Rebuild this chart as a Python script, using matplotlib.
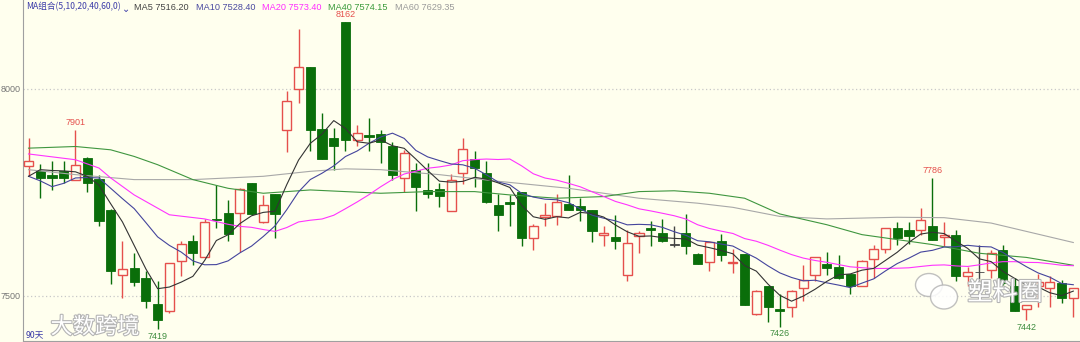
import matplotlib
matplotlib.use("Agg")
import matplotlib.pyplot as plt
import matplotlib.patheffects as pe
from matplotlib.patches import Ellipse
import pandas as pd

# daily OHLC, 90 sessions
opens = [7815, 7801, 7792, 7802, 7781, 7833, 7783, 7708, 7551, 7567,
         7543, 7480, 7463, 7585, 7632, 7595, 7686, 7700, 7700, 7772,
         7678, 7746, 7901, 7999, 8054, 7903, 7882, 8162, 7876, 7888,
         7891, 7863, 7785, 7805, 7756, 7758, 7706, 7797, 7831, 7798,
         7720, 7727, 7751, 7641, 7690, 7694, 7722, 7718, 7708, 7648,
         7642, 7551, 7645, 7665, 7652, 7623, 7652, 7601, 7582, 7632,
         7579, 7601, 7456, 7523, 7469, 7472, 7520, 7551, 7577, 7569,
         7554, 7523, 7590, 7614, 7665, 7660, 7660, 7670, 7642, 7648,
         7549, 7557, 7563, 7611, 7525, 7469, 7524, 7520, 7531, 7495]
highs = [7881, 7818, 7825, 7825, 7901, 7836, 7793, 7710, 7633, 7603,
         7559, 7537, 7580, 7632, 7646, 7686, 7768, 7732, 7761, 7772,
         7744, 7746, 7994, 8144, 8054, 7942, 7906, 8162, 7913, 7931,
         7901, 7873, 7853, 7821, 7821, 7772, 7794, 7881, 7851, 7825,
         7746, 7744, 7751, 7673, 7724, 7746, 7791, 7736, 7708, 7670,
         7696, 7660, 7657, 7680, 7686, 7668, 7698, 7603, 7630, 7649,
         7613, 7601, 7515, 7523, 7504, 7515, 7575, 7593, 7607, 7598,
         7554, 7587, 7624, 7665, 7678, 7678, 7712, 7786, 7678, 7660,
         7571, 7622, 7611, 7622, 7543, 7477, 7552, 7547, 7539, 7519]
lows = [7790, 7736, 7756, 7772, 7780, 7750, 7670, 7529, 7495, 7525,
        7471, 7419, 7458, 7547, 7575, 7593, 7664, 7632, 7607, 7696,
        7676, 7641, 7847, 7966, 7849, 7830, 7805, 7849, 7861, 7850,
        7821, 7781, 7752, 7706, 7736, 7714, 7704, 7770, 7764, 7724,
        7656, 7668, 7620, 7611, 7669, 7672, 7708, 7680, 7630, 7620,
        7613, 7537, 7603, 7620, 7630, 7619, 7601, 7576, 7561, 7585,
        7555, 7477, 7453, 7438, 7426, 7450, 7488, 7535, 7551, 7541,
        7504, 7523, 7543, 7603, 7624, 7625, 7648, 7636, 7620, 7535,
        7523, 7535, 7543, 7527, 7464, 7442, 7472, 7472, 7483, 7450]
closes = [7826, 7786, 7785, 7785, 7817, 7772, 7680, 7559, 7566, 7533,
          7487, 7442, 7579, 7625, 7603, 7678, 7684, 7649, 7759, 7698,
          7719, 7698, 7971, 8054, 7901, 7831, 7861, 7876, 7893, 7883,
          7871, 7791, 7845, 7762, 7746, 7742, 7779, 7855, 7810, 7726,
          7696, 7723, 7641, 7670, 7695, 7728, 7708, 7708, 7656, 7652,
          7632, 7627, 7653, 7660, 7632, 7623, 7620, 7578, 7630, 7598,
          7583, 7477, 7511, 7472, 7464, 7512, 7539, 7593, 7567, 7543,
          7523, 7585, 7614, 7664, 7641, 7644, 7684, 7636, 7648, 7549,
          7557, 7557, 7603, 7531, 7464, 7477, 7533, 7533, 7496, 7519]

# moving-average values before the window fills
ma5_head = [7789, 7805, 7803, 7802]
ma10_head = [7789, 7778, 7764, 7772, 7785, 7786, 7785, 7760, 7735]
ma20_head_idx = [0, 4, 6, 7, 9, 11, 12, 15, 17, 18]
ma20_head = [7843, 7829, 7809, 7785, 7744, 7712, 7696, 7686, 7673, 7668]
# long averages, sampled along the line
ma40_idx = [0, 4, 7, 9, 11, 14, 17, 20, 24, 27, 30, 34, 38, 41, 45, 49, 52,
            55, 58, 61, 64, 68, 71, 74, 77, 81, 85, 89]
ma40 = [7857, 7861, 7853, 7837, 7817, 7781, 7760, 7748, 7756, 7752, 7748,
        7752, 7752, 7744, 7736, 7740, 7752, 7754, 7748, 7736, 7698, 7672,
        7648, 7636, 7624, 7603, 7593, 7574]
ma60_idx = [0, 4, 9, 14, 20, 24, 27, 30, 35, 40, 46, 52, 57, 60, 64, 68,
            74, 78, 82, 89]
ma60 = [7805, 7793, 7781, 7781, 7789, 7801, 7807, 7805, 7793, 7777, 7760,
        7736, 7724, 7714, 7692, 7686, 7690, 7689, 7676, 7629]

# marked extremes: (index, value, above?)
marks_idx = [4, 27, 77, 11, 64, 85]
marks_val = [7901, 8162, 7786, 7419, 7426, 7442]
marks_up = [True, True, True, False, False, False]

BG = "#ffffee"
RED = "#e5504c"
GREEN = "#0a6e0a"
W, H = 1080, 342

fig = plt.figure(figsize=(W / 100, H / 100), dpi=100, facecolor=BG)
ax = fig.add_axes([23 / W, 1 / H, 1057 / W, 341 / H], facecolor=BG)
ax.set_xlim(-0.47, 89.57)
ax.set_ylim(7391, 8215)

n = len(closes)
xs = list(range(n))
s = pd.Series(closes, dtype=float)

ma5_line = s.rolling(5).mean().tolist()
ma5_line[:4] = ma5_head
ma10_line = s.rolling(10).mean().tolist()
ma10_line[:9] = ma10_head
ma20_full = s.rolling(20).mean()
ma20_x = ma20_head_idx + list(range(19, n))
ma20_y = ma20_head + ma20_full.iloc[19:].tolist()

# candles
for i in xs:
    o, h, l, c = opens[i], highs[i], lows[i], closes[i]
    if c > o:
        col = RED
    elif c < o:
        col = GREEN
    else:
        col = "#444444"
    ax.vlines(i, l, h, color=col, linewidth=1, zorder=2)
    bot = min(o, c)
    ht = max(abs(c - o), 1.6)
    if c > o:
        ax.bar(i, ht, bottom=bot, width=0.78, facecolor=BG, edgecolor=col,
               linewidth=1, zorder=3)
    else:
        ax.bar(i, ht, bottom=bot, width=0.78, facecolor=col, edgecolor=col,
               linewidth=0.6, zorder=3)

ax.plot(ma60_idx, ma60, color="#a8a8a8", lw=0.8, zorder=4)
ax.plot(ma40_idx, ma40, color="#3f963f", lw=0.8, zorder=4)
ax.plot(ma20_x, ma20_y, color="#ff33ff", lw=0.8, zorder=4)
ax.plot(xs, ma10_line, color="#44449c", lw=0.8, zorder=4)
ax.plot(xs, ma5_line, color="#333333", lw=0.8, zorder=4)

for i, v, up in zip(marks_idx, marks_val, marks_up):
    if up:
        ax.annotate(str(v), (i, v), xytext=(0, 2), textcoords="offset points",
                    ha="center", va="bottom", fontsize=6.5, color=RED,
                    family="Liberation Sans")
    else:
        ax.annotate(str(v), (i, v), xytext=(0, -2), textcoords="offset points",
                    ha="center", va="top", fontsize=6.5, color="#3d8c3d",
                    family="Liberation Sans")

ax.set_yticks([7500, 8000])
ax.set_yticklabels(["7500", "8000"])
ax.set_xticks([])
ax.tick_params(axis="y", length=0, pad=2, labelsize=6.5, labelcolor="#777777")
for lab in ax.get_yticklabels():
    lab.set_family("Liberation Sans")
ax.yaxis.grid(True, linestyle=(0, (1, 2)), color="#c8c8c8", lw=0.9)
ax.set_axisbelow(True)
for k in ("top", "right"):
    ax.spines[k].set_visible(False)
ax.spines["left"].set_color("#a0a0a0")
ax.spines["bottom"].set_color("#a0a0a0")

# header legend
fam = ["Noto Sans CJK SC", "DejaVu Sans"]
hy = 1 - 7 / H
fig.text(26 / W, hy, "MA组合(5,10,20,40,60,0)", fontsize=6.2, color="#3c3ca8",
         va="center", family=fam)
fig.text(122 / W, hy - 0.006, "⌄", fontsize=7, color="#3c3ca8", va="center",
         family=["DejaVu Sans"])
hdr = [("MA5 7516.20", 134, "#444444"), ("MA10 7528.40", 196, "#4a4aa0"),
       ("MA20 7573.40", 262, "#ff2dff"), ("MA40 7574.15", 328, "#3a9a3a"),
       ("MA60 7629.35", 395, "#9a9a9a")]
for txt, px, col in hdr:
    fig.text(px / W, hy, txt, fontsize=6.6, color=col, va="center",
             family="Liberation Sans")

fig.text(26 / W, 1 - 335 / H, "90天", fontsize=6.3, color="#3c3ca8",
         va="center", family=fam)

# watermarks
wm = [pe.withStroke(linewidth=1.6, foreground="#b5b5b5")]
fig.text(95 / W, 1 - 327 / H, "大数跨境", fontsize=16, color="white",
         ha="center", va="center", family=fam, path_effects=wm, zorder=10)
fig.text(1005 / W, 1 - 293 / H, "塑料圈", fontsize=18, color="white",
         ha="center", va="center", family=fam, path_effects=wm, zorder=10)
for cx, cy, ew, eh in [(929, 285, 27, 23), (944, 297, 27, 24)]:
    fig.add_artist(Ellipse((cx / W, 1 - cy / H), ew / W, eh / H,
                           transform=fig.transFigure, facecolor="white",
                           edgecolor="#b5b5b5", lw=1, alpha=0.85, zorder=9))

fig.savefig("out.png", dpi=100, facecolor=BG)
plt.close(fig)
